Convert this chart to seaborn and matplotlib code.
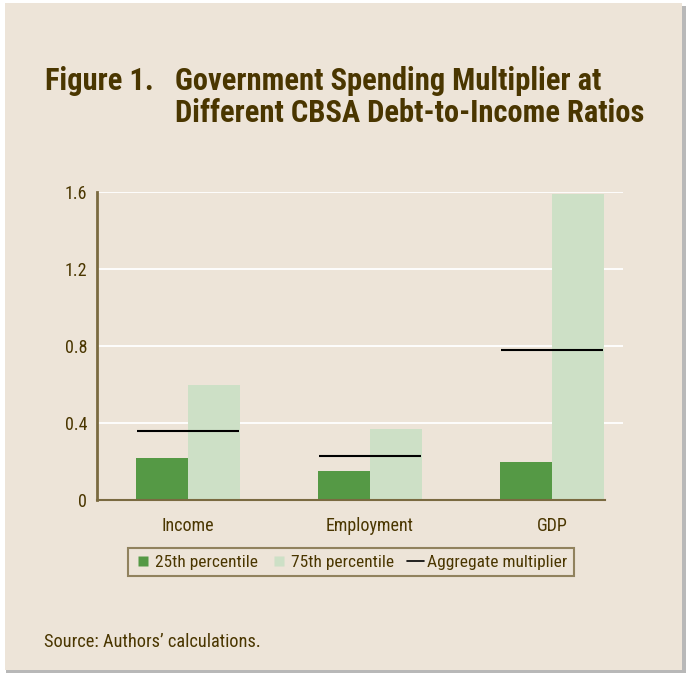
import numpy as np
import pandas as pd
import seaborn as sns
import matplotlib.pyplot as plt
from matplotlib.patches import Rectangle
from matplotlib.lines import Line2D

# Data
categories = ["Income", "Employment", "GDP"]
pct25 = [0.22, 0.15, 0.20]
pct75 = [0.60, 0.37, 1.59]
aggregate = [0.36, 0.23, 0.78]
yticks = [0, 0.4, 0.8, 1.2, 1.6]
ytick_labels = ["0", "0.4", "0.8", "1.2", "1.6"]

BG = "#ede4d8"
DARK_GREEN = "#559945"
LIGHT_GREEN = "#cde0c6"
BROWN_TXT = "#4a3600"
SPINE = "#7a6a40"

df = pd.DataFrame({
    "category": categories * 2,
    "value": pct25 + pct75,
    "series": ["25th percentile"] * 3 + ["75th percentile"] * 3,
})

sns.set_theme(style="white")
plt.rcParams["font.family"] = ["Roboto Condensed", "DejaVu Sans"]

fig = plt.figure(figsize=(6.86, 6.73), dpi=100)
fig.patch.set_facecolor("white")

# card background with a soft grey shadow on the right and bottom
W, H = 686, 673
fig.patches.append(Rectangle((6 / W, 0), 680 / W, 1 - 6 / H, transform=fig.transFigure,
                             facecolor="#b8b8b8", edgecolor="none", zorder=-2))
fig.patches.append(Rectangle((5 / W, 3 / H), 677 / W, 1 - 6 / H, transform=fig.transFigure,
                             facecolor=BG, edgecolor="none", zorder=-1))

ax = fig.add_axes([97 / W, 1 - 500 / H, (623 - 97) / W, (500 - 192) / H])
ax.set_facecolor(BG)

sns.barplot(data=df, x="category", y="value", hue="series",
            palette=[DARK_GREEN, LIGHT_GREEN], width=0.572, saturation=1,
            edgecolor="none", linewidth=0, ax=ax, legend=False, zorder=2)

xs = np.arange(len(categories))
ax.hlines(aggregate, xs - 0.28, xs + 0.28, colors="black", linewidth=1.5, zorder=3)

ax.set_xlim(-0.5, 2.39)
ax.set_ylim(0, 1.6)
ax.set_yticks(yticks)
ax.set_yticklabels(ytick_labels)
for y in yticks[1:]:
    ax.axhline(y, color="white", linewidth=1.3, zorder=1)

ax.set_xlabel("")
ax.set_ylabel("")
for s in ["top", "right"]:
    ax.spines[s].set_visible(False)
ax.spines["left"].set_color(SPINE)
ax.spines["left"].set_linewidth(2)
ax.spines["bottom"].set_color(SPINE)
ax.spines["bottom"].set_linewidth(1.5)
ax.spines["bottom"].set_bounds(-0.5, 2.29)
ax.tick_params(axis="both", length=0, labelsize=13, labelcolor=BROWN_TXT)
ax.tick_params(axis="y", pad=7)
ax.tick_params(axis="x", pad=12)

handles = [
    Line2D([], [], marker="s", linestyle="none", markersize=7,
           markerfacecolor=DARK_GREEN, markeredgecolor="none"),
    Line2D([], [], marker="s", linestyle="none", markersize=7,
           markerfacecolor=LIGHT_GREEN, markeredgecolor="none"),
    Line2D([], [], color="black", linewidth=1.2),
]
leg = fig.legend(handles, ["25th percentile", "75th percentile", "Aggregate multiplier"],
                 loc="center", bbox_to_anchor=(351 / W, 1 - 562 / H), ncol=3,
                 frameon=True, fancybox=False, fontsize=12.5, handlelength=1.0,
                 handletextpad=0.2, columnspacing=0.7, borderpad=0.35)
leg.get_frame().set_facecolor(BG)
leg.get_frame().set_edgecolor(SPINE)
leg.get_frame().set_linewidth(1.5)
for t in leg.get_texts():
    t.set_color(BROWN_TXT)

fig.text(45 / W, 1 - 90 / H, "Figure 1.", fontsize=22, fontweight="bold",
         color=BROWN_TXT)
fig.text(175 / W, 1 - 90 / H, "Government Spending Multiplier at", fontsize=22,
         fontweight="bold", color=BROWN_TXT)
fig.text(175 / W, 1 - 122 / H, "Different CBSA Debt-to-Income Ratios", fontsize=22,
         fontweight="bold", color=BROWN_TXT)

fig.text(44 / W, 1 - 647 / H, "Source: Authors\u2019 calculations.", fontsize=13.2,
         color=BROWN_TXT)

fig.savefig("out.png", dpi=100, facecolor=fig.get_facecolor())
